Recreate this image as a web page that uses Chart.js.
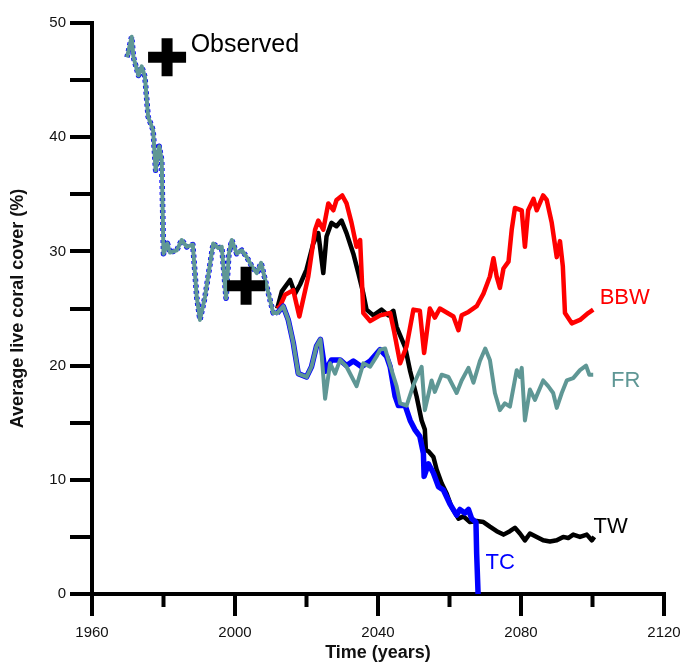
<!DOCTYPE html>
<html>
<head>
<meta charset="utf-8">
<script src="https://cdn.jsdelivr.net/npm/chart.js@4.4.1/dist/chart.umd.min.js"></script>
<style>
  body { margin: 0; background: #fff; }
  #wrap { width: 683px; height: 664px; }
</style>
</head>
<body>
<div id="wrap"><canvas id="coralChart" width="683" height="664"></canvas></div>
<script>
// shared hindcast, 1970-2012
const histYears = [1969.8, 1971.1, 1971.6, 1973.0, 1973.9, 1974.8, 1975.7, 1977.1, 1977.8, 1978.8,
  1979.5, 1980.0, 1981.1, 1981.8, 1983.7, 1985.1, 1986.5, 1988.2, 1989.3, 1990.2,
  1991.6, 1993.9, 1995.3, 1996.3, 1997.5, 1998.3, 1999.1, 2000.5, 2001.9, 2003.3,
  2004.7, 2006.1, 2007.3, 2008.9, 2010.7, 2011.8];
const histCover = [47.0, 48.8, 47.0, 45.4, 46.2, 45.3, 41.8, 40.6, 37.1, 39.2,
  38.0, 29.8, 30.7, 29.9, 30.1, 31.0, 30.4, 30.6, 26.0, 24.0,
  26.0, 30.7, 30.3, 30.4, 25.9, 29.8, 31.0, 29.8, 30.1, 29.5,
  28.7, 28.1, 29.0, 26.9, 24.6, 24.6];

// TW scenario
const twYears = [2011.8, 2013.1, 2015.4, 2016.8, 2018.2, 2020.0, 2021.9, 2023.3, 2024.7, 2025.6,
  2027.0, 2028.4, 2029.8, 2031.2, 2033.1, 2034.5, 2035.9, 2036.8, 2038.7, 2041.0,
  2042.9, 2044.3, 2045.2, 2047.6, 2049.0, 2050.8, 2052.2, 2053.1, 2053.4, 2054.1,
  2055.5, 2056.4, 2057.8, 2059.2, 2060.6, 2062.5, 2063.9, 2065.7, 2067.6, 2069.5,
  2071.3, 2073.2, 2075.1, 2076.9, 2078.3, 2079.7, 2081.1, 2082.5, 2084.4, 2086.2,
  2088.1, 2090.0, 2091.8, 2093.2, 2094.6, 2096.5, 2098.4, 2099.8, 2100.5];
const twCover = [25.0, 26.5, 27.5, 26.3, 27.1, 28.4, 30.7, 31.6, 28.1, 31.3,
  32.5, 32.2, 32.7, 31.6, 29.8, 28.1, 26.3, 24.9, 24.4, 24.9,
  24.4, 24.8, 23.4, 21.6, 19.5, 17.3, 15.2, 14.4, 12.6, 12.5,
  12.0, 10.9, 9.7, 8.8, 7.6, 6.6, 6.8, 6.3, 6.4, 6.3,
  5.9, 5.5, 5.2, 5.5, 5.8, 5.3, 4.7, 5.3, 5.0, 4.7,
  4.6, 4.7, 5.0, 4.9, 5.2, 5.0, 5.2, 4.7, 5.0];

// BBW scenario
const bbwYears = [2011.8, 2012.6, 2014.0, 2016.3, 2018.0, 2020.5, 2022.4, 2023.3, 2024.7, 2026.1,
  2027.5, 2028.4, 2030.0, 2031.2, 2032.6, 2034.0, 2035.0, 2035.9, 2037.8, 2040.6,
  2043.4, 2044.5, 2046.2, 2048.0, 2049.9, 2051.7, 2052.9, 2054.5, 2055.9, 2057.3,
  2061.1, 2062.5, 2063.4, 2065.3, 2067.6, 2069.5, 2071.3, 2072.3, 2073.2, 2074.1,
  2075.1, 2076.5, 2077.4, 2078.3, 2080.2, 2081.1, 2082.0, 2083.5, 2084.4, 2086.2,
  2087.2, 2088.6, 2090.0, 2090.9, 2091.7, 2092.3, 2094.2, 2096.5, 2098.8, 2100.2];
const bbwCover = [25.0, 25.2, 26.2, 26.6, 24.3, 27.8, 31.9, 32.7, 31.9, 34.2,
  33.6, 34.5, 34.9, 34.2, 32.5, 30.4, 31.0, 24.6, 23.9, 24.4,
  24.6, 23.0, 20.2, 21.7, 24.9, 24.8, 21.1, 25.0, 24.2, 25.0,
  24.3, 23.1, 24.4, 24.7, 25.2, 26.3, 27.8, 29.4, 27.8, 26.8,
  28.5, 29.1, 31.9, 33.8, 33.6, 30.4, 33.6, 34.6, 33.6, 34.9,
  34.5, 32.5, 29.5, 30.9, 28.7, 24.6, 23.7, 24.0, 24.6, 24.9];

// FR scenario
const frYears = [2011.8, 2013.5, 2014.9, 2016.3, 2017.7, 2020.0, 2021.4, 2022.8, 2023.9, 2025.2,
  2026.6, 2028.0, 2029.4, 2031.2, 2034.0, 2035.9, 2037.8, 2039.6, 2040.6, 2042.0,
  2042.9, 2045.2, 2046.2, 2048.0, 2049.9, 2052.2, 2053.1, 2055.0, 2055.9, 2057.8,
  2059.7, 2062.0, 2063.4, 2065.3, 2066.7, 2068.5, 2070.0, 2071.3, 2072.7, 2074.1,
  2075.5, 2076.9, 2078.8, 2079.7, 2080.2, 2081.1, 2082.5, 2083.9, 2086.2, 2087.6,
  2089.0, 2090.0, 2091.4, 2092.8, 2094.6, 2096.5, 2098.2, 2099.1, 2100.2];
const frCover = [24.6, 25.2, 24.0, 22.0, 19.3, 19.0, 19.9, 21.7, 22.3, 17.1,
  20.2, 19.3, 20.5, 19.9, 18.2, 20.2, 19.9, 20.8, 21.4, 21.5,
  20.5, 18.2, 16.7, 16.5, 18.3, 19.9, 16.1, 18.7, 17.7, 19.2,
  19.0, 17.6, 18.7, 19.8, 18.5, 20.4, 21.5, 20.5, 17.6, 16.1,
  16.7, 16.4, 19.6, 19.0, 19.8, 15.2, 17.9, 17.0, 18.7, 18.2,
  17.6, 16.3, 17.6, 18.7, 18.9, 19.6, 20.0, 19.2, 19.2];

// TC scenario
const tcYears = [2011.8, 2013.5, 2014.9, 2016.3, 2017.7, 2020.0, 2021.4, 2022.8, 2023.9, 2025.2,
  2027.0, 2029.4, 2031.2, 2033.1, 2035.4, 2037.8, 2040.6, 2042.4, 2043.4, 2044.8,
  2045.7, 2047.6, 2049.0, 2050.3, 2051.7, 2052.7, 2052.9, 2054.1, 2055.5, 2056.9,
  2058.3, 2060.1, 2062.0, 2062.9, 2064.3, 2065.3, 2066.2, 2067.4, 2067.6, 2068.0];
const tcCover = [24.6, 25.2, 24.0, 22.0, 19.3, 19.0, 19.9, 21.7, 22.3, 19.5,
  20.5, 20.5, 20.0, 20.4, 19.9, 20.4, 21.4, 20.8, 19.9, 17.3,
  16.5, 16.5, 15.2, 14.4, 13.8, 12.3, 10.3, 11.4, 10.6, 9.4,
  9.1, 7.9, 6.9, 7.4, 7.1, 7.4, 6.6, 6.3, 3.5, 0];

// observed points
const obsYears = [1981.0, 2003.1];
const obsCover = [47.0, 27.0];

const xTicks = [1960, 2000, 2040, 2080, 2120];
const xMinorTicks = [1980, 2020, 2060, 2100];
const yTicks = [0, 10, 20, 30, 40, 50];

const teal = '#5f9795';
const fontFamily = '"Liberation Sans", Arial, sans-serif';

function pts(xs, ys) {
  return xs.map((x, i) => ({ x: x, y: ys[i] }));
}

// text labels beside the curves, placed in data units
const curveLabels = [
  { text: 'Observed', x: 1987.6, y: 48.1, color: '#000', size: 25 },
  { text: 'BBW', x: 2102.0, y: 25.9, color: '#ff0000', size: 22 },
  { text: 'FR', x: 2105.2, y: 18.7, color: teal, size: 22 },
  { text: 'TW', x: 2100.3, y: 5.9, color: '#000', size: 22 },
  { text: 'TC', x: 2070.1, y: 2.7, color: '#0000ff', size: 22 }
];

const labelPlugin = {
  id: 'curveLabels',
  afterDatasetsDraw(chart) {
    const ctx = chart.ctx;
    const xs = chart.scales.x, ys = chart.scales.y;
    ctx.save();
    ctx.textBaseline = 'middle';
    ctx.textAlign = 'left';
    curveLabels.forEach(l => {
      ctx.font = l.size + 'px ' + fontFamily;
      ctx.fillStyle = l.color;
      ctx.fillText(l.text, xs.getPixelForValue(l.x), ys.getPixelForValue(l.y));
    });
    // short minor ticks on the time axis
    ctx.strokeStyle = '#000';
    ctx.lineWidth = 4;
    xMinorTicks.forEach(v => {
      const px = xs.getPixelForValue(v);
      ctx.beginPath();
      ctx.moveTo(px, xs.top);
      ctx.lineTo(px, xs.top + 13);
      ctx.stroke();
    });
    ctx.restore();
  }
};

new Chart(document.getElementById('coralChart'), {
  type: 'line',
  data: {
    datasets: [
      {
        label: 'Observed',
        data: pts(obsYears, obsCover),
        showLine: false,
        pointStyle: 'cross',
        pointRadius: 19,
        pointBorderWidth: 11,
        borderColor: '#000',
        order: 0
      },
      {
        label: 'FR',
        data: pts(histYears, histCover).concat(pts(frYears, frCover)),
        borderColor: teal,
        borderWidth: 4,
        pointRadius: 0,
        order: 1
      },
      {
        label: 'TC',
        data: pts(histYears, histCover).concat(pts(tcYears, tcCover)),
        borderColor: '#0000ff',
        borderWidth: 5.5,
        pointRadius: 0,
        segment: {
          borderDash: ctx => ctx.p1.parsed.x <= 2011.8 ? [3, 3] : undefined
        },
        order: 2
      },
      {
        label: 'BBW',
        data: pts(bbwYears, bbwCover),
        borderColor: '#ff0000',
        borderWidth: 4.5,
        pointRadius: 0,
        order: 3
      },
      {
        label: 'TW',
        data: pts(twYears, twCover),
        borderColor: '#000',
        borderWidth: 4.5,
        pointRadius: 0,
        order: 4
      }
    ]
  },
  options: {
    responsive: false,
    animation: false,
    layout: { autoPadding: false, padding: { top: 23, right: 19, left: 0, bottom: 0 } },
    plugins: { legend: { display: false }, tooltip: { enabled: false } },
    elements: { line: { tension: 0, borderJoinStyle: 'round' } },
    scales: {
      x: {
        type: 'linear',
        min: 1960,
        max: 2120,
        afterFit: s => { s.height = 70; s.paddingLeft = 0; s.paddingRight = 0; },
        afterBuildTicks: s => { s.ticks = xTicks.map(v => ({ value: v })); },
        border: { display: true, color: '#000', width: 4 },
        grid: { drawOnChartArea: false, drawTicks: true, tickLength: 22, lineWidth: 4, color: '#000' },
        ticks: {
          padding: 8,
          color: '#111',
          font: { family: fontFamily, size: 15 },
          maxRotation: 0,
          callback: v => String(v)
        },
        title: {
          display: true,
          text: 'Time (years)',
          color: '#111',
          font: { family: fontFamily, size: 18, weight: 'bold' },
          padding: { top: 0, bottom: 0 }
        }
      },
      y: {
        min: 0,
        max: 50,
        afterFit: s => { s.width = 92; s.paddingTop = 0; s.paddingBottom = 0; },
        afterBuildTicks: s => {
          const t = [];
          for (let v = 0; v <= 50; v += 5) t.push({ value: v });
          s.ticks = t;
        },
        border: { display: true, color: '#000', width: 4 },
        grid: { drawOnChartArea: false, drawTicks: true, tickLength: 22, lineWidth: 4, color: '#000' },
        ticks: {
          padding: 4,
          color: '#111',
          font: { family: fontFamily, size: 15 },
          callback: v => yTicks.includes(v) ? String(v) : ''
        },
        title: {
          display: true,
          text: 'Average live coral cover (%)',
          color: '#111',
          font: { family: fontFamily, size: 18, weight: 'bold' },
          padding: { top: 7, bottom: 0 }
        }
      }
    }
  },
  plugins: [labelPlugin]
});
</script>
</body>
</html>
